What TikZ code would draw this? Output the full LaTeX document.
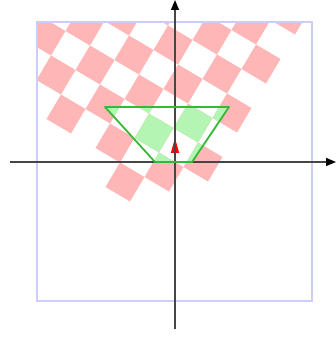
\documentclass[tikz,border=0pt]{standalone}
\usetikzlibrary{arrows.meta}
\definecolor{tilered}{RGB}{255,182,182}
\definecolor{tilegreen}{RGB}{180,245,180}
\definecolor{viewgreen}{RGB}{55,185,55}
\definecolor{boxblue}{RGB}{205,205,250}
\definecolor{axisgray}{RGB}{70,70,70}

% one diamond per dark tile, in lattice coordinates
\newcommand\tiles[1]{%
  \begin{scope}[shift={(-50,-20)}, x={(39pt,10pt)}, y={(-10pt,39pt)}]
    \foreach \m in {-2,...,6}
      \foreach \n in {0,...,5} {
        \pgfmathtruncatemacro\keep{and(\m-\n<3, 2*\m+\n>-1)}
        \ifnum\keep=1
          \fill[#1] (\m+.5,\n) -- (\m,\n+.5) -- (\m-.5,\n) -- (\m,\n-.5) -- cycle;
        \fi
      }
  \end{scope}}

\begin{document}
\begin{tikzpicture}[x=1pt, y=1pt,
      frame/.style={draw=boxblue, line width=1.5pt},
      view/.style={draw=viewgreen, line width=1.8pt, line join=round},
      axis/.style={draw=axisgray, line width=1.2pt, -{Triangle[black, length=10pt, width=8pt]}},
      heading/.style={draw=red, line width=1pt, -{Triangle[red, length=15pt, width=8pt]}}]
    \useasboundingbox (-175,-175) rectangle (161,162);
    \coordinate (bl0) at (-138,-139);
    \coordinate (tr0) at (137,140);
    \coordinate (tl) at (-70,55);
    \coordinate (tr) at (54,55);
    \coordinate (br) at (17,0);
    \coordinate (bl) at (-20,0);
    \coordinate (o) at (0,0);
    \coordinate (look) at (0,24);
    \coordinate (xs) at (-165,0);
    \coordinate (xe) at (161,0);
    \coordinate (ys) at (0,-167);
    \coordinate (ye) at (0,162);
    \begin{scope}
      \clip (bl0) rectangle (tr0);
      \tiles{tilered}
      \clip (tl) -- (tr) -- (br) -- (bl) -- cycle;
      \tiles{tilegreen}
    \end{scope}
    \draw[frame] (bl0) rectangle (tr0);
    \draw[heading] (o) -- (look);
    \draw[axis] (xs) -- (xe);
    \draw[axis] (ys) -- (ye);
    \draw[view] (tl) -- (tr) -- (br) -- (bl) -- cycle;
  \end{tikzpicture}
\end{document}
